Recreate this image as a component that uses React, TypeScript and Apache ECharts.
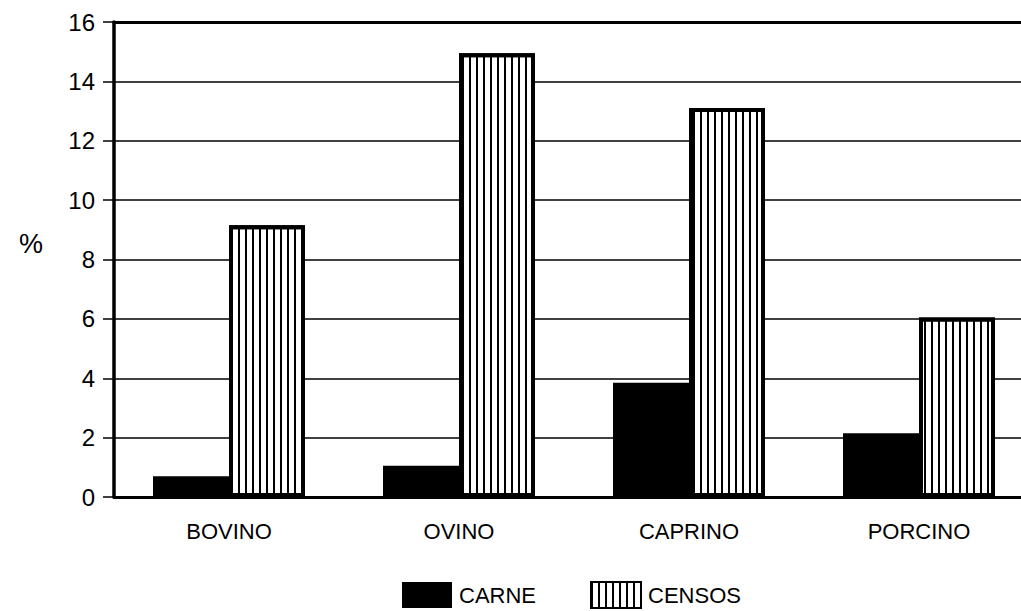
import React, { useEffect, useRef } from "react";
import * as echarts from "echarts";

const categories = ["BOVINO", "OVINO", "CAPRINO", "PORCINO"];
const carne = [0.7, 1.05, 3.85, 2.15];
const censos = [9.15, 14.95, 13.1, 6.05];
const yTicks = { min: 0, max: 16, interval: 2 };

export default function App() {
  const ref = useRef<HTMLDivElement>(null);
  useEffect(() => {
    if (!ref.current) return;
    const chart = echarts.init(ref.current, null, { renderer: "svg" });
    const font = "'Liberation Sans', Arial, sans-serif";
    chart.setOption({
      animation: false,
      backgroundColor: "#fff",
      grid: {
        left: 114,
        top: 22,
        width: 920,
        height: 475,
        containLabel: false,
        outerBoundsMode: "none",
      },
      legend: {
        left: 397,
        top: 576,
        itemWidth: 50,
        itemHeight: 26,
        itemGap: 54,
        icon: "rect",
        textStyle: { fontSize: 22, color: "#000", fontFamily: font, padding: [0, 0, 0, 2] },
        data: ["CARNE", "CENSOS"],
      },
      graphic: [
        { type: "text", left: 19, top: 230, style: { text: "%", fontSize: 27, fill: "#000", fontFamily: font } },
      ],
      xAxis: [
        {
          type: "category",
          data: categories,
          axisLine: { show: true, lineStyle: { color: "#000", width: 3 } },
          axisTick: { show: false },
          axisLabel: { fontSize: 22, color: "#000", fontFamily: font, margin: 23 },
          splitLine: { show: false },
        },
        {
          type: "category",
          position: "top",
          data: categories,
          axisLine: { show: true, lineStyle: { color: "#000", width: 3 } },
          axisTick: { show: false },
          axisLabel: { show: false },
        },
      ],
      yAxis: {
        type: "value",
        min: yTicks.min,
        max: yTicks.max,
        interval: yTicks.interval,
        axisLine: { show: true, lineStyle: { color: "#000", width: 3.5 } },
        axisTick: { show: true, length: 11, lineStyle: { color: "#000", width: 1.5 } },
        axisLabel: { fontSize: 24, color: "#000", fontFamily: font, margin: 19 },
        splitLine: { show: true, lineStyle: { color: "#000", width: 1.6 } },
      },
      series: [
        {
          name: "CARNE",
          type: "bar",
          data: carne,
          barWidth: 76,
          barGap: "0%",
          itemStyle: { color: "#000" },
        },
        {
          name: "CENSOS",
          type: "bar",
          data: censos,
          barWidth: 76,
          barGap: "0%",
          itemStyle: {
            color: "#fff",
            borderColor: "#000",
            borderWidth: 4,
            decal: {
              symbol: "rect",
              symbolSize: 1,
              color: "#000",
              dashArrayX: [2, 5],
              dashArrayY: [10, 0],
              rotation: 0,
            },
          },
        },
      ],
    });
    return () => chart.dispose();
  }, []);
  return (
    <div
      ref={ref}
      style={{ position: "fixed", left: 0, top: 0, width: 1021, height: 611, background: "#fff" }}
    />
  );
}
